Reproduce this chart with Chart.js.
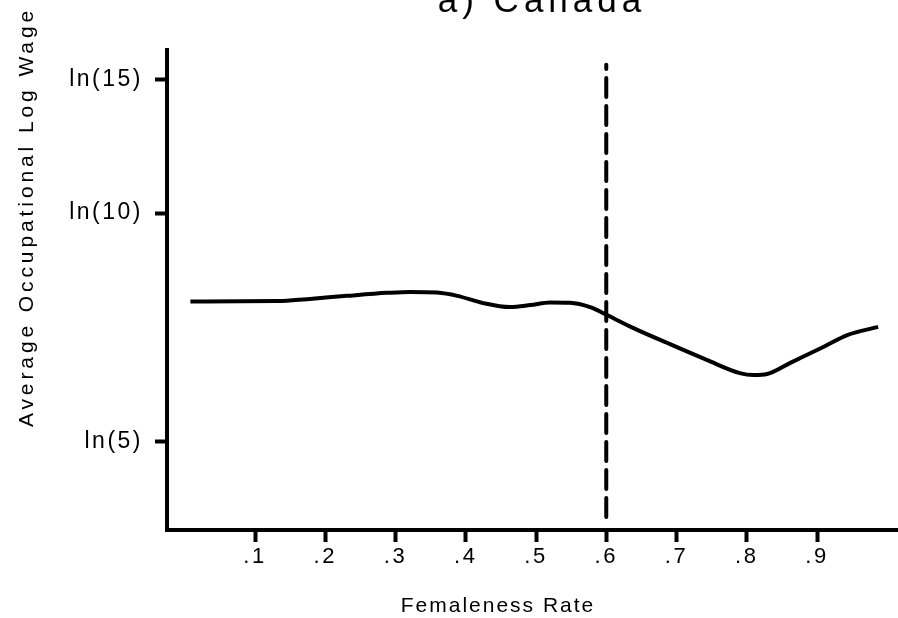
<!DOCTYPE html>
<html>
<head>
<meta charset="utf-8">
<script src="https://cdn.jsdelivr.net/npm/chart.js@4"></script>
<style>
  html, body { margin: 0; padding: 0; background: #fff; }
  #wrap { width: 898px; height: 618px; }
</style>
</head>
<body>
<div id="wrap"><canvas id="c" width="898" height="618"></canvas></div>
<script>
// ---- data ----
const chartTitle = 'a) Canada';
const xTitle = 'Femaleness Rate';
const yTitle = 'Average Occupational Log Wage';

const femaleness = [0.008, 0.133, 0.174, 0.231, 0.288, 0.321, 0.359, 0.388, 0.425, 0.463, 0.492, 0.520, 0.548, 0.577, 0.601, 0.638, 0.687, 0.743, 0.790, 0.810, 0.829, 0.862, 0.909, 0.943, 0.987];
const avgLogWage = [2.035, 2.036, 2.042, 2.052, 2.061, 2.064, 2.062, 2.052, 2.030, 2.018, 2.024, 2.032, 2.031, 2.018, 1.994, 1.955, 1.909, 1.858, 1.818, 1.812, 1.815, 1.849, 1.897, 1.933, 1.958];

const cutoffX = [0.6, 0.6];
const cutoffY = [1.382, 2.752];

const xTickValues = [0.1, 0.2, 0.3, 0.4, 0.5, 0.6, 0.7, 0.8, 0.9];
const xTickLabels = ['.1', '.2', '.3', '.4', '.5', '.6', '.7', '.8', '.9'];
const yTickValues = [Math.log(5), Math.log(10), Math.log(15)];
const yTickLabels = ['ln(5)', 'ln(10)', 'ln(15)'];

const FONT = "'Liberation Sans', Arial, Helvetica, sans-serif";

const spacingPlugin = {
  id: 'spacing',
  beforeDraw(chart) { chart.ctx.letterSpacing = '2.5px'; },
  afterDraw(chart) {
    const ctx = chart.ctx;
    ctx.save();
    ctx.fillStyle = '#000';
    // chart title (partly cut off at top)
    ctx.font = '35px ' + FONT;
    ctx.letterSpacing = '5px';
    ctx.textAlign = 'center';
    ctx.textBaseline = 'alphabetic';
    ctx.fillText(chartTitle, 542, 12);
    // x title
    ctx.font = '21px ' + FONT;
    ctx.letterSpacing = '2px';
    ctx.fillText(xTitle, 498, 612);
    // y title
    ctx.translate(33, 217);
    ctx.rotate(-Math.PI / 2);
    ctx.font = '21px ' + FONT;
    ctx.letterSpacing = '3.9px';
    ctx.fillText(yTitle, 0, 0);
    ctx.restore();
    chart.ctx.letterSpacing = '0px';
  }
};

new Chart(document.getElementById('c'), {
  type: 'line',
  data: {
    datasets: [
      {
        data: femaleness.map((x, i) => ({ x: x, y: avgLogWage[i] })),
        borderColor: '#000',
        borderWidth: 4,
        pointRadius: 0,
        cubicInterpolationMode: 'monotone',
        fill: false
      },
      {
        data: cutoffX.map((x, i) => ({ x: x, y: cutoffY[i] })),
        borderColor: '#000',
        borderWidth: 4,
        borderDash: [19, 9],
        borderCapStyle: 'round',
        pointRadius: 0,
        fill: false
      }
    ]
  },
  options: {
    responsive: false,
    animation: false,
    devicePixelRatio: 1,
    layout: { padding: { top: 50, left: 0, right: 0, bottom: 0 } },
    plugins: { legend: { display: false }, title: { display: false }, tooltip: { enabled: false } },
    scales: {
      x: {
        type: 'linear',
        min: -0.0253,
        max: 1.0153,
        afterBuildTicks(s) { s.ticks = xTickValues.map(v => ({ value: v })); },
        afterFit(s) { s.height = 88; },
        ticks: {
          autoSkip: false,
          maxRotation: 0,
          color: '#000',
          font: { family: FONT, size: 22 },
          padding: 2,
          callback(v) { const i = xTickValues.findIndex(t => Math.abs(t - v) < 1e-6); return i >= 0 ? xTickLabels[i] : ''; }
        },
        grid: { display: true, drawOnChartArea: false, drawTicks: true, tickLength: 12, tickWidth: 4, tickColor: '#000' },
        border: { display: true, color: '#000', width: 4 }
      },
      y: {
        type: 'linear',
        min: 1.3424,
        max: 2.797,
        afterBuildTicks(s) { s.ticks = yTickValues.map(v => ({ value: v })); },
        afterFit(s) { s.width = 167; },
        ticks: {
          autoSkip: false,
          color: '#000',
          font: { family: FONT, size: 23 },
          padding: 12,
          callback(v) { const i = yTickValues.findIndex(t => Math.abs(t - v) < 1e-6); return i >= 0 ? yTickLabels[i] : ''; }
        },
        grid: { display: true, drawOnChartArea: false, drawTicks: true, tickLength: 12, tickWidth: 4, tickColor: '#000' },
        border: { display: true, color: '#000', width: 4 }
      }
    }
  },
  plugins: [spacingPlugin]
});
</script>
</body>
</html>
